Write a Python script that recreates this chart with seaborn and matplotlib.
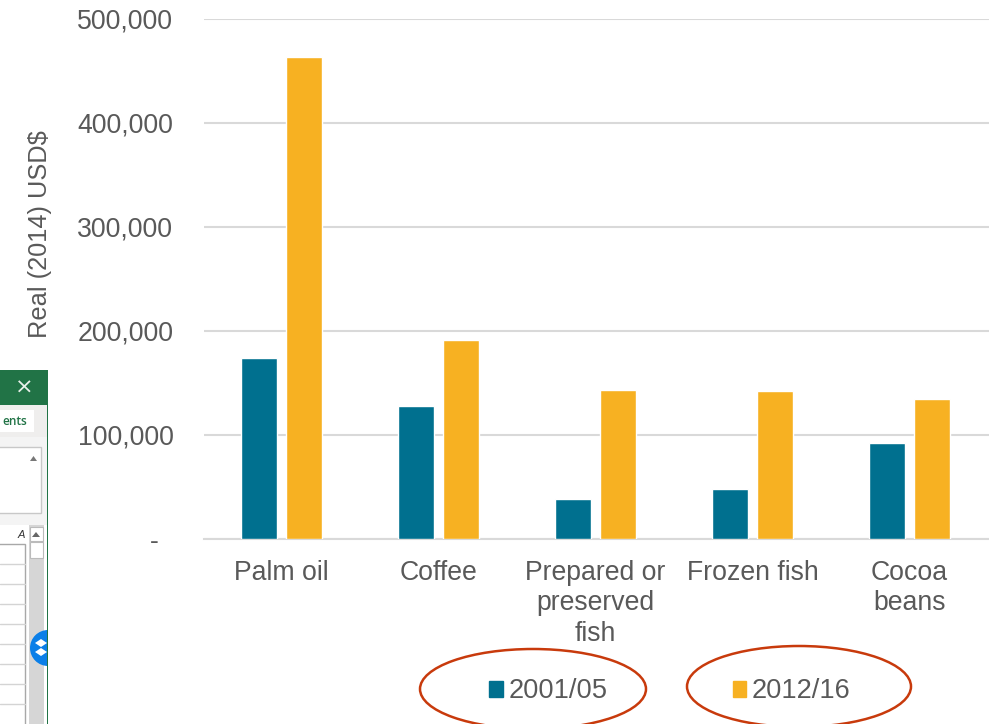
import matplotlib
matplotlib.use("Agg")
import matplotlib.pyplot as plt
from matplotlib.patches import Rectangle, Ellipse, Circle, Polygon
from matplotlib.lines import Line2D
import pandas as pd
import seaborn as sns

categories = ["Palm oil", "Coffee", "Prepared or\npreserved\nfish", "Frozen fish", "Cocoa\nbeans"]
values_2001 = [174500, 128000, 38500, 48000, 92000]
values_2012 = [463500, 191000, 143000, 142000, 134500]
series_names = ["2001/05", "2012/16"]
y_ticks = [0, 100000, 200000, 300000, 400000, 500000]
y_tick_labels = ["-  ", "100,000", "200,000", "300,000", "400,000", "500,000"]
palette = ["#00708F", "#F7B122"]
TEXT = "#595959"
W, H = 989, 724

df = pd.DataFrame({"cat": categories * 2,
                   "val": values_2001 + values_2012,
                   "period": [series_names[0]] * 5 + [series_names[1]] * 5})

sns.set_theme(style="white")
plt.rcParams["font.family"] = ["Liberation Sans", "DejaVu Sans"]

fig = plt.figure(figsize=(W / 100, H / 100), dpi=100, facecolor="white")
ax = fig.add_axes([204 / W, 1 - 539 / H, 785 / W, 520 / H])
sns.barplot(data=df, x="cat", y="val", hue="period", palette=palette, order=categories,
            width=0.573, gap=0.2, saturation=1, ax=ax, zorder=3, errorbar=None, legend=False)
ax.set_ylim(0, 500000)
ax.set_xlim(-0.493, 4.507)
ax.set_yticks(y_ticks, y_tick_labels)
ax.set_xlabel("")
ax.set_ylabel("")
ax.yaxis.grid(True, color="#D9D9D9", lw=1.5, zorder=0)
ax.set_axisbelow(True)
for s in ["top", "right", "left"]:
    ax.spines[s].set_visible(False)
ax.spines["bottom"].set_color("#D9D9D9")
ax.spines["bottom"].set_linewidth(1.5)
ax.spines["bottom"].set_clip_on(False)
ax.tick_params(axis="y", length=0, pad=22, labelsize=19.2, labelcolor=TEXT)
ax.tick_params(axis="x", length=0, pad=15, labelsize=19.2, labelcolor=TEXT)
for lab in ax.get_xticklabels():
    lab.set_linespacing(1.22)
for lab in ax.get_yticklabels():
    lab.set_clip_on(False)

fig.text(40 / W, 1 - 234 / H, "Real (2014) USD$", rotation=90, ha="center", va="center",
         fontsize=18.3, color=TEXT)

handles = [Rectangle((0, 0), 1, 1, color=c) for c in palette]
ax.legend(handles, series_names, ncol=2, frameon=False, fontsize=19.6, labelcolor=TEXT,
          loc="center left", bbox_to_anchor=((489 - 204) / 785, (539 - 691.5) / 520),
          borderpad=0, borderaxespad=0, handlelength=0.51, handleheight=0.51,
          handletextpad=0.2, columnspacing=4.6)

# hand-drawn annotation ellipses
def px_ellipse(x0, x1, y0, y1):
    fig.add_artist(Ellipse(((x0 + x1) / 2 / W, 1 - (y0 + y1) / 2 / H), (x1 - x0) / W, (y1 - y0) / H,
                           transform=fig.transFigure, fill=False, ec="#C83A0C", lw=1.8))
px_ellipse(420, 646, 649, 729)
px_ellipse(687, 911, 646, 727)

# stray screenshot fragment on the left edge
def box(x0, y0, x1, y1, fc, ec="none", lw=0.0):
    fig.add_artist(Rectangle((x0 / W, 1 - y1 / H), (x1 - x0) / W, (y1 - y0) / H,
                             transform=fig.transFigure, fc=fc, ec=ec, lw=lw))
box(0, 370, 48, 724, "#F4F4F4")
box(0, 370, 48, 405, "#217346")
box(0, 405, 47, 437, "#EFEEED")
box(0, 410, 34, 432, "white")
box(-2, 447, 41, 513, "white", "#C8C8C8", 1)
box(0, 525, 47, 724, "white")
box(29, 525, 44, 724, "#D6D6D6")
box(47, 405, 48, 724, "#217346")
box(30, 527, 43, 541, "white", "#BBBBBB", 0.8)
box(30, 542, 43, 558, "white", "#BBBBBB", 0.8)
box(-2, 544, 25, 730, "white", "#A8A8A8", 1)
for y in range(564, 724, 20):
    fig.add_artist(Line2D([0, 25 / W], [1 - y / H] * 2, transform=fig.transFigure, color="#D4D4D4", lw=1))
fig.add_artist(Polygon([[32 / W, 1 - 537 / H], [40 / W, 1 - 537 / H], [36 / W, 1 - 532 / H]],
                       transform=fig.transFigure, fc="#666666", ec="none"))
fig.add_artist(Polygon([[30 / W, 1 - 461 / H], [37 / W, 1 - 461 / H], [33.5 / W, 1 - 456 / H]],
                       transform=fig.transFigure, fc="#777777", ec="none"))
fig.text(2 / W, 1 - 421 / H, "ents", fontsize=8.5, color="#217346", ha="left", va="center",
         family=["Open Sans", "DejaVu Sans"], fontweight="semibold")
fig.text(24 / W, 1 - 388 / H, "×", fontsize=16, color="#E8F0EA", ha="center", va="center",
         family=["DejaVu Sans"])
fig.text(25 / W, 1 - 535 / H, "A", fontsize=8, color="#333333", ha="right", va="center", style="italic")

# round badge, cut by the window edge
clip = Rectangle((0, 0), 47 / W, 1, transform=fig.transFigure)
c = Circle((48, H - 648), 18, transform=None, fc="#0B7FE8", ec="none")
fig.add_artist(c)
c.set_clip_path(clip)
for (dx, dy) in [(41, 643), (41, 652)]:
    fig.add_artist(Polygon([[(dx - 6) / W, 1 - dy / H], [dx / W, 1 - (dy - 4) / H],
                            [(dx + 6) / W, 1 - dy / H], [dx / W, 1 - (dy + 4) / H]],
                           transform=fig.transFigure, fc="white", ec="none"))

fig.savefig("out.png", dpi=100)
